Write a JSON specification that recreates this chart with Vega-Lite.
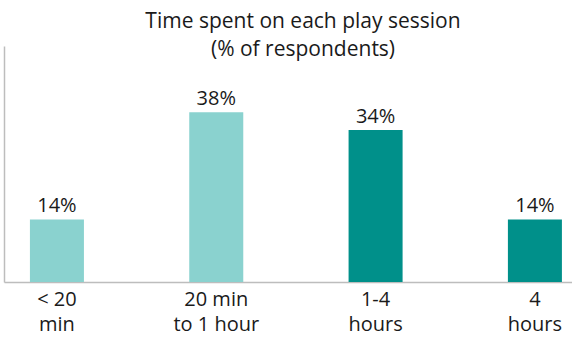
{
  "$schema": "https://vega.github.io/schema/vega-lite/v6.json",
  "width": 568,
  "height": 236,
  "autosize": {"type": "none"},
  "padding": {"left": 4, "top": 46, "right": 0, "bottom": 56},
  "background": "white",
  "title": {
    "text": ["Time spent on each play session", "(% of respondents)"],
    "font": "Open Sans",
    "fontSize": 21,
    "fontWeight": "normal",
    "color": "#1a1a1a",
    "lineHeight": 28,
    "anchor": "middle",
    "frame": "group",
    "offset": -14,
    "dx": 15
  },
  "data": {
    "values": [
      {"category": "< 20|min", "pct": 14},
      {"category": "20 min|to 1 hour", "pct": 38},
      {"category": "1-4|hours", "pct": 34},
      {"category": "4|hours", "pct": 14}
    ]
  },
  "transform": [
    {"calculate": "format(datum.pct, '.0f') + '%'", "as": "label"}
  ],
  "config": {
    "view": {"stroke": null},
    "font": "Open Sans"
  },
  "encoding": {
    "x": {
      "field": "category",
      "type": "nominal",
      "sort": null,
      "scale": {"paddingInner": 0.661, "paddingOuter": 0.113, "align": 0.72},
      "axis": {
        "title": null,
        "labelAngle": 0,
        "ticks": false,
        "domainColor": "#bdbdbd",
        "domainWidth": 1.5,
        "labelFont": "Open Sans",
        "labelFontSize": 20,
        "labelColor": "#1a1a1a",
        "labelPadding": 7,
        "labelLineHeight": 25,
        "labelExpr": "split(datum.label, '|')"
      }
    },
    "y": {
      "field": "pct",
      "type": "quantitative",
      "scale": {"domain": [0, 52.8]},
      "axis": {
        "title": null,
        "labels": false,
        "ticks": false,
        "grid": false,
        "domainColor": "#bdbdbd",
        "domainWidth": 1.5
      }
    }
  },
  "layer": [
    {
      "mark": {"type": "bar"},
      "encoding": {
        "color": {
          "field": "category",
          "type": "nominal",
          "sort": null,
          "scale": {"range": ["#8AD2CF", "#8AD2CF", "#00908A", "#00908A"]},
          "legend": null
        }
      }
    },
    {
      "mark": {"type": "text", "baseline": "alphabetic", "dy": -7, "fontSize": 20, "color": "#1a1a1a", "font": "Open Sans"},
      "encoding": {
        "text": {"field": "label", "type": "nominal"}
      }
    }
  ]
}
